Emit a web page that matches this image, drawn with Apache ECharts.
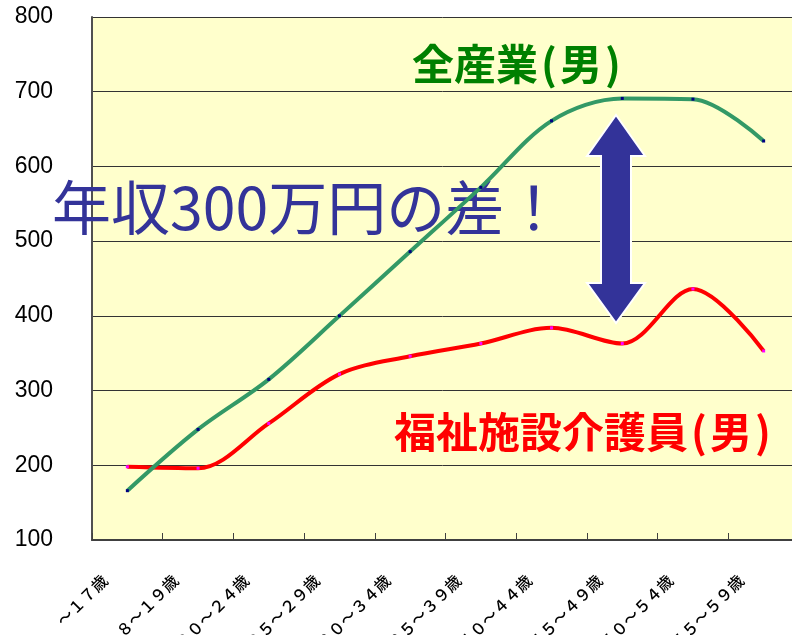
<!DOCTYPE html>
<html><head><meta charset="utf-8">
<script src="https://cdn.jsdelivr.net/npm/echarts@6/dist/echarts.min.js"></script>
<style>html,body{margin:0;padding:0;background:#fff}#c{width:792px;height:635px}</style>
</head><body><div id="c"></div>
<script>
// categories (age groups)
const ageLabels = ['～１７歳','１８～１９歳','２０～２４歳','２５～２９歳','３０～３４歳','３５～３９歳','４０～４４歳','４５～４９歳','５０～５４歳','５５～５９歳'];
// annual income (10,000 yen)
const allIndustryMale = [166, 248, 315, 400, 486, 572, 661, 691, 690, 634];
const careWorkerMale  = [198, 196, 256, 322, 346, 363, 384, 363, 436, 353];
// y axis
const yMin = 100, yMax = 800, yStep = 100;

const CJK = "'Noto Sans CJK JP','Noto Sans',sans-serif";
const chart = echarts.init(document.getElementById('c'), null, {renderer:'canvas'});
chart.setOption({
  animation: false,
  backgroundColor: '#ffffff',
  grid: {left: 92, top: 17, width: 707, height: 523, show: true, backgroundColor: '#FFFFCC', borderWidth: 0,
         containLabel: false, outerBoundsMode: 'none'},
  xAxis: {
    type: 'category', data: ageLabels, boundaryGap: true,
    axisLine: {lineStyle: {color: '#404040', width: 2}},
    axisTick: {show: true, inside: true, length: 7, lineStyle: {color: '#404040', width: 1}},
    axisLabel: {interval: 0, rotate: 45, margin: 15, padding: [0, 32, 0, 0], fontSize: 16, fontWeight: 500, fontFamily: CJK, color: '#000', hideOverlap: false},
    splitLine: {show: false}
  },
  yAxis: {
    type: 'value', min: yMin, max: yMax, interval: yStep,
    axisLine: {show: true, lineStyle: {color: '#505050', width: 2}},
    axisTick: {show: false},
    axisLabel: {fontSize: 23, fontFamily: "'Liberation Sans',Arial,sans-serif", color: '#000', margin: 39},
    splitLine: {show: true, lineStyle: {color: '#333', width: 1}}
  },
  series: [
    {name: '福祉施設介護員(男)', type: 'line', data: careWorkerMale, smooth: 0.33,
     symbol: 'rect', symbolSize: 3, showSymbol: true, z: 3,
     lineStyle: {color: '#FF0000', width: 4}, itemStyle: {color: '#FF00FF'}},
    {name: '全産業(男)', type: 'line', data: allIndustryMale, smooth: 0.33,
     symbol: 'rect', symbolSize: 3, showSymbol: true, z: 4,
     lineStyle: {color: '#339966', width: 4}, itemStyle: {color: '#000080'}}
  ],
  graphic: [
    {type: 'text', x: 52, y: 208, z: 1,
     style: {text: '年収300万円の差！', fontSize: 59, fontFamily: CJK, fill: '#333399',
             align: 'left', verticalAlign: 'middle', textAlign: 'left', textVerticalAlign: 'middle'}},
    {type: 'text', x: 412, y: 64, z: 1,
     style: {text: '全産業{p|(}男{p|)}', fontSize: 42, fontWeight: 'bold', fontFamily: CJK, fill: '#008000',
             align: 'left', verticalAlign: 'middle', textAlign: 'left', textVerticalAlign: 'middle',
             rich: {p: {width: 22, align: 'center', fontSize: 42, fontWeight: 'bold', fontFamily: CJK, fill: '#008000'}}}},
    {type: 'text', x: 394, y: 432, z: 1,
     style: {text: '福祉施設介護員{p|(}男{p|)}', fontSize: 42, fontWeight: 'bold', fontFamily: CJK, fill: '#FF0000',
             align: 'left', verticalAlign: 'middle', textAlign: 'left', textVerticalAlign: 'middle',
             rich: {p: {width: 22, align: 'center', fontSize: 42, fontWeight: 'bold', fontFamily: CJK, fill: '#FF0000'}}}},
    {type: 'polygon', z: 10,
     shape: {points: [[616,115],[645,156],[631,156],[631,283],[645,283],[616,323],[587,283],[601,283],[601,156],[587,156]]},
     style: {fill: '#333399', stroke: '#ffffff', lineWidth: 2}}
  ]
});
</script></body></html>
